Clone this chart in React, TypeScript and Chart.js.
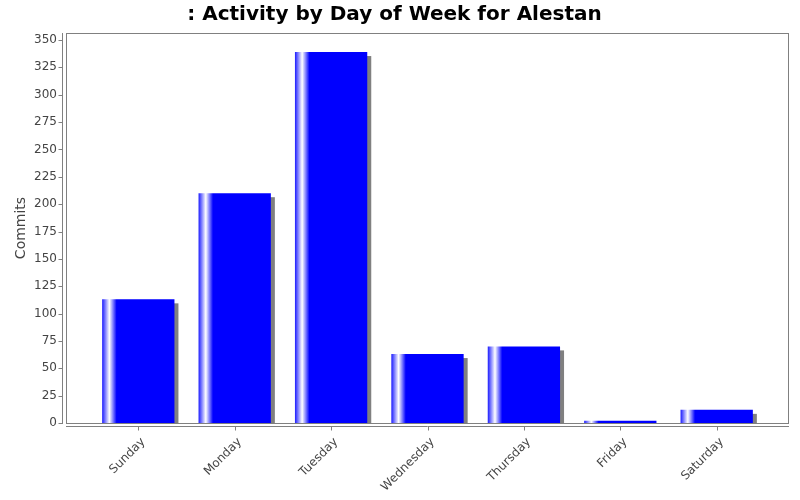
import React, { useEffect, useRef } from 'react';
import { Chart, registerables } from 'chart.js';

Chart.register(...registerables);

const titleText = ': Activity by Day of Week for Alestan';
const yAxisTitle = 'Commits';
const categories = ['Sunday', 'Monday', 'Tuesday', 'Wednesday', 'Thursday', 'Friday', 'Saturday'];
const commits = [113, 210, 339, 63, 70, 2, 12];
const yTickValues = [0, 25, 50, 75, 100, 125, 150, 175, 200, 225, 250, 275, 300, 325, 350];

const FONT = '"DejaVu Sans", "Lucida Sans", sans-serif';
const TICK_COLOR = '#444444';
const AXIS_COLOR = '#808080';

const jfreePlugin = {
  id: 'jfreeLook',
  beforeDatasetsDraw(chart: any) {
    const { ctx, chartArea } = chart;
    const meta = chart.getDatasetMeta(0);
    ctx.save();
    ctx.beginPath();
    ctx.rect(chartArea.left, chartArea.top, chartArea.right - chartArea.left, chartArea.bottom - chartArea.top);
    ctx.clip();
    ctx.fillStyle = '#808080';
    meta.data.forEach((bar: any) => {
      const { x, y, base, width } = bar.getProps(['x', 'y', 'base', 'width'], true);
      const h = base - y;
      if (h > 0) ctx.fillRect(x - width / 2 + 4, y + 4, width, h);
    });
    ctx.restore();
  },
  afterDraw(chart: any) {
    const { ctx, chartArea, scales } = chart;
    const xs = scales.x;
    const ys = scales.y;
    ctx.save();
    ctx.strokeStyle = AXIS_COLOR;
    ctx.lineWidth = 1;
    // plot outline
    ctx.strokeRect(chartArea.left + 0.5, chartArea.top + 0.5, chartArea.right - chartArea.left - 1, chartArea.bottom - chartArea.top);
    // y axis line and ticks
    const ax = Math.round(chartArea.left - 4) + 0.5;
    ctx.beginPath();
    ctx.moveTo(ax, chartArea.top);
    ctx.lineTo(ax, chartArea.bottom + 1);
    yTickValues.forEach((v) => {
      const py = Math.round(ys.getPixelForValue(v)) + 0.5;
      ctx.moveTo(ax - 4, py);
      ctx.lineTo(ax, py);
    });
    // x axis line and ticks
    const ay = Math.round(chartArea.bottom + 3) + 0.5;
    ctx.moveTo(chartArea.left, ay);
    ctx.lineTo(chartArea.right, ay);
    categories.forEach((_, i) => {
      const px = Math.round(xs.getPixelForValue(i)) + 0.5;
      ctx.moveTo(px, ay);
      ctx.lineTo(px, ay + 4);
    });
    ctx.stroke();
    ctx.restore();
  },
};

export default function App() {
  const canvasRef = useRef<HTMLCanvasElement | null>(null);

  useEffect(() => {
    document.body.style.margin = '0';
    const canvas = canvasRef.current;
    if (!canvas) return;

    const barFill = (c: any) => {
      const chart = c.chart;
      const xs = chart.scales && chart.scales.x;
      if (!xs || c.dataIndex === undefined || !chart.chartArea) return '#0000ff';
      const center = xs.getPixelForValue(c.dataIndex);
      const step = xs.getPixelForValue(1) - xs.getPixelForValue(0);
      const w = step * 0.75;
      const g = chart.ctx.createLinearGradient(center - w / 2, 0, center + w / 2, 0);
      g.addColorStop(0, '#1a1aff');
      g.addColorStop(0.1, '#ffffff');
      g.addColorStop(0.2, '#0000ff');
      g.addColorStop(1, '#0000ff');
      return g;
    };

    const chart = new Chart(canvas, {
      type: 'bar',
      data: {
        datasets: [
          {
            label: yAxisTitle,
            data: commits.map((v, i) => ({ x: i, y: v })),
            backgroundColor: barFill,
            borderWidth: 0,
            barPercentage: 0.75,
            categoryPercentage: 1,
          },
        ],
      },
      plugins: [jfreePlugin],
      options: {
        responsive: false,
        animation: false,
        layout: { padding: { left: 0, right: 11, top: 0, bottom: 0 } },
        plugins: {
          legend: { display: false },
          tooltip: { enabled: false },
          title: {
            display: true,
            text: titleText,
            color: '#000000',
            font: { family: FONT, size: 20, weight: 'bold', lineHeight: 1.2 },
            padding: { top: 3, bottom: 6 },
          },
        },
        scales: {
          x: {
            type: 'linear',
            min: -0.75,
            max: 6.75,
            offset: false,
            grid: { display: false, drawTicks: false },
            border: { display: false },
            afterBuildTicks: (scale: any) => {
              scale.ticks = categories.map((_, i) => ({ value: i }));
            },
            afterFit: (scale: any) => {
              scale.height = 77;
            },
            ticks: {
              autoSkip: false,
              maxRotation: 45,
              minRotation: 45,
              padding: 12,
              labelOffset: 5,
              color: TICK_COLOR,
              font: { family: FONT, size: 12 },
              callback: (v: any) => categories[v as number] ?? '',
            },
          },
          y: {
            type: 'linear',
            min: 0,
            max: 356.4,
            grid: { display: false, drawTicks: false },
            border: { display: false },
            afterBuildTicks: (scale: any) => {
              scale.ticks = yTickValues.map((v) => ({ value: v }));
            },
            afterFit: (scale: any) => {
              scale.width = 66;
            },
            title: {
              display: true,
              text: yAxisTitle,
              color: TICK_COLOR,
              font: { family: FONT, size: 14 },
              padding: { top: 13, bottom: 0 },
            },
            ticks: {
              padding: 9,
              color: TICK_COLOR,
              font: { family: FONT, size: 12 },
            },
          },
        },
      },
    } as any);

    return () => {
      chart.destroy();
    };
  }, []);

  return (
    <div style={{ position: 'absolute', left: 0, top: 0, width: 800, height: 500, background: '#ffffff' }}>
      <canvas ref={canvasRef} width={800} height={500} />
    </div>
  );
}
